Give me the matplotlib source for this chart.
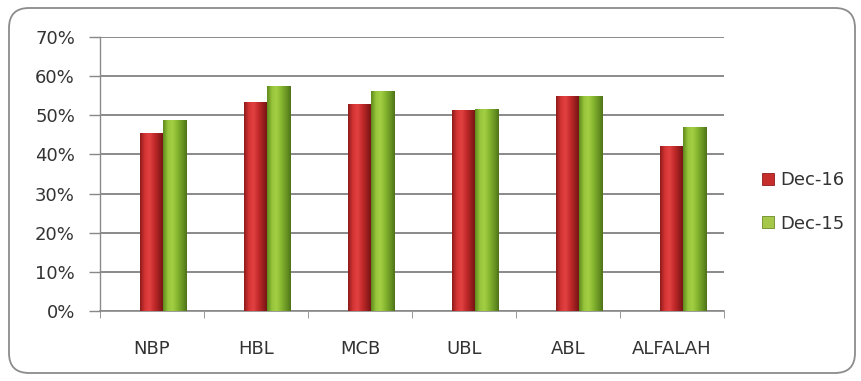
import matplotlib
matplotlib.use("Agg")
import matplotlib.pyplot as plt
import numpy as np
from matplotlib.patches import FancyBboxPatch, Patch
from matplotlib.transforms import IdentityTransform
from matplotlib.colors import LinearSegmentedColormap

categories = ["NBP", "HBL", "MCB", "UBL", "ABL", "ALFALAH"]
dec16 = [45.5, 53.5, 52.9, 51.4, 55.0, 42.2]
dec15 = [48.8, 57.4, 56.3, 51.6, 54.9, 47.1]
series_names = ["Dec-16", "Dec-15"]
yticks = [0, 10, 20, 30, 40, 50, 60, 70]

plt.rcParams['font.family'] = ['DejaVu Sans']

W, H = 861, 381
fig = plt.figure(figsize=(W / 100, H / 100), dpi=100)
fig.patch.set_facecolor("white")

ax = fig.add_axes([100 / W, (H - 311) / H, 624 / W, 274 / H])

red_cmap = LinearSegmentedColormap.from_list(
    "r", ["#8e1b1b", "#d63434", "#e04242", "#c42a2a", "#9a1e1e", "#6e1414"])
green_cmap = LinearSegmentedColormap.from_list(
    "g", ["#5f8a1e", "#96c43a", "#a3cf44", "#86b630", "#6c9826", "#4f7418"])

width = 0.225
offset = 0.105
x = np.arange(len(categories))
grad = np.linspace(0, 1, 64).reshape(1, -1)

for vals, cmap, base, shift in [(dec16, red_cmap, "#c62e2e", -width / 2),
                                 (dec15, green_cmap, "#8cbc36", width / 2)]:
    bars = ax.bar(x + offset + shift, vals, width=width, color=base,
                  edgecolor="none", zorder=3)
    for b in bars:
        x0, x1 = b.get_x(), b.get_x() + b.get_width()
        im = ax.imshow(grad, cmap=cmap, aspect="auto",
                       extent=(x0, x1, 0, b.get_height()), zorder=3.5,
                       interpolation="bilinear")
        im.set_clip_path(b)

txt = "#333333"
ax.set_xlim(-0.5, len(categories) - 0.5)
ax.set_ylim(0, 70)
ax.set_yticks(yticks)
ax.set_yticklabels([f"{t}%" for t in yticks], fontsize=13, color=txt)
ax.set_xticks(x)
ax.set_xticklabels(categories, fontsize=13, color=txt)
ax.tick_params(axis="x", length=0, pad=21)
ax.set_xticks(np.arange(-0.5, len(categories)), minor=True)
ax.tick_params(axis="x", which="minor", length=5, color="#888888", direction="out")
ax.tick_params(axis="y", length=8, color="#888888", pad=10, width=1)
ax.grid(axis="y", color="#8a8a8a", linewidth=1.4, zorder=1)
ax.set_axisbelow(True)
for s in ["top", "right"]:
    ax.spines[s].set_visible(False)
ax.spines["left"].set_color("#8a8a8a")
ax.spines["bottom"].set_color("#8a8a8a")
ax.spines["left"].set_linewidth(1.0)
ax.spines["bottom"].set_linewidth(1.2)
ax.set_ylim(0, 70)

handles = [Patch(facecolor="#c62e2e", edgecolor="#8e1b1b", linewidth=0.6),
           Patch(facecolor="#a6c84a", edgecolor="#6c8a26", linewidth=0.6)]
fig.legend(handles, series_names, loc="upper left",
           bbox_to_anchor=(748 / W, (H - 157) / H), frameon=False,
           fontsize=13, handlelength=0.65, handleheight=0.65,
           handletextpad=0.35, labelspacing=1.4, labelcolor=txt,
           borderpad=0.3)

border = FancyBboxPatch((9, 8), 846, 365,
                        boxstyle="round,pad=0,rounding_size=20",
                        transform=IdentityTransform(), facecolor="none",
                        edgecolor="#8c8c8c", linewidth=1.3)
fig.add_artist(border)

fig.savefig("out.png", dpi=100)
